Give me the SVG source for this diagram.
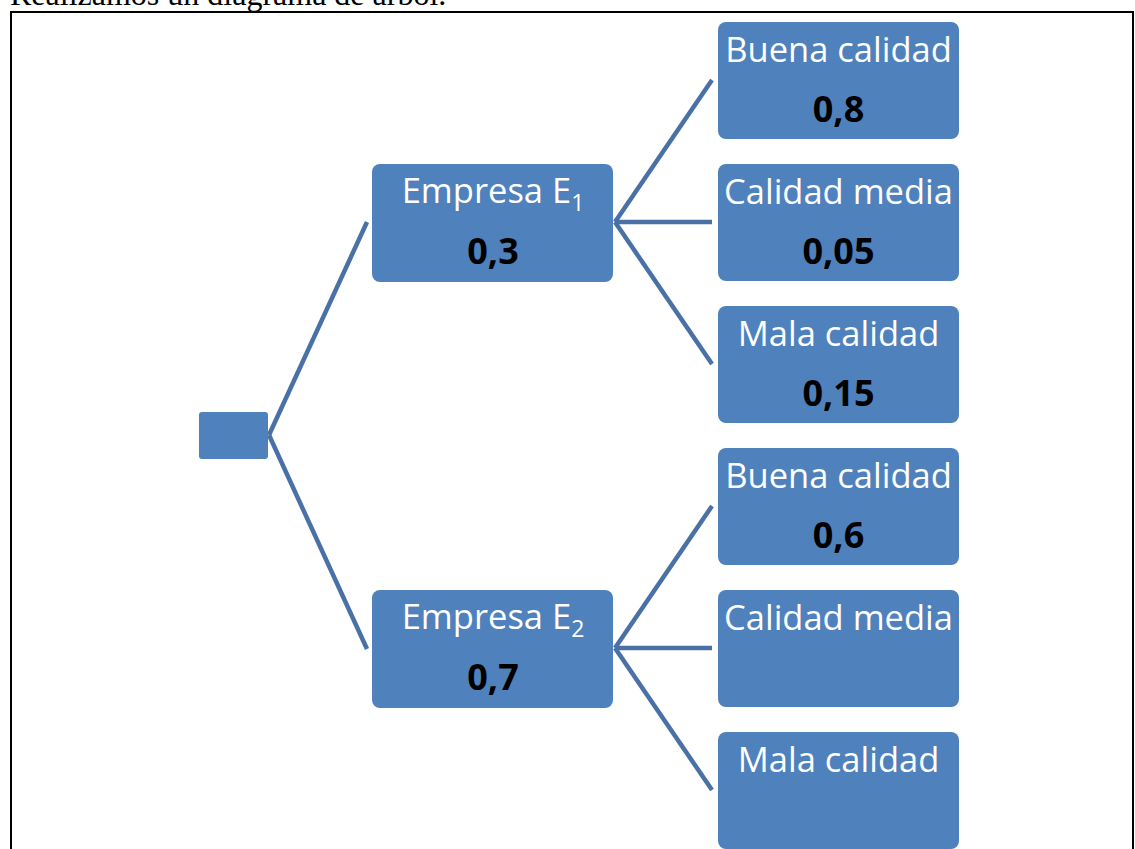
<svg xmlns="http://www.w3.org/2000/svg" width="1135" height="849" viewBox="0 0 1135 849">
<style>
.box{fill:#4F81BD;}
.lbl{font-family:"Open Sans","Noto Sans",sans-serif;font-size:34.5px;fill:#ffffff;text-anchor:middle;}
.num{font-family:"Open Sans","Noto Sans",sans-serif;font-size:36px;font-weight:bold;fill:#000000;text-anchor:middle;}
.sub{font-size:23px;}
.conn line{stroke:#4A71A6;stroke-width:4.5;stroke-linecap:butt;}
</style>
<rect width="1135" height="849" fill="#ffffff"/>
<text x="10" y="5" font-family="Liberation Serif,serif" font-size="32" fill="#000">Realizamos un diagrama de árbol.</text>
<path d="M11,860 V12 H1133 V860" fill="none" stroke="#000" stroke-width="2"/>
<g class="conn" id="connectors">
<line x1="269" y1="435" x2="367" y2="222"/>
<line x1="269" y1="435" x2="367" y2="649"/>
<line x1="615" y1="222" x2="712" y2="80"/>
<line x1="615" y1="222" x2="712" y2="222"/>
<line x1="615" y1="222" x2="712" y2="364"/>
<line x1="615" y1="648" x2="712" y2="506"/>
<line x1="615" y1="648" x2="712" y2="648"/>
<line x1="615" y1="648" x2="712" y2="790"/>
</g>
<g id="root"><rect class="box" x="199" y="412" width="69" height="47" rx="3"/></g>
<g id="e1"><rect class="box" x="372" y="164" width="241" height="118" rx="8"/>
<text class="lbl" x="493" y="203">Empresa E<tspan class="sub" dy="8">1</tspan></text>
<text class="num" x="493" y="264">0,3</text></g>
<g id="e2"><rect class="box" x="372" y="590" width="241" height="118" rx="8"/>
<text class="lbl" x="493" y="629">Empresa E<tspan class="sub" dy="8">2</tspan></text>
<text class="num" x="493" y="690">0,7</text></g>
<g id="e1b"><rect class="box" x="718" y="22" width="241" height="117" rx="8"/>
<text class="lbl" x="838.5" y="62">Buena calidad</text>
<text class="num" x="838.5" y="122">0,8</text></g>
<g id="e1m"><rect class="box" x="718" y="164" width="241" height="117" rx="8"/>
<text class="lbl" x="838.5" y="204">Calidad media</text>
<text class="num" x="838.5" y="264">0,05</text></g>
<g id="e1w"><rect class="box" x="718" y="306" width="241" height="117" rx="8"/>
<text class="lbl" x="838.5" y="346">Mala calidad</text>
<text class="num" x="838.5" y="406">0,15</text></g>
<g id="e2b"><rect class="box" x="718" y="448" width="241" height="117" rx="8"/>
<text class="lbl" x="838.5" y="488">Buena calidad</text>
<text class="num" x="838.5" y="548">0,6</text></g>
<g id="e2m"><rect class="box" x="718" y="590" width="241" height="117" rx="8"/>
<text class="lbl" x="838.5" y="630">Calidad media</text></g>
<g id="e2w"><rect class="box" x="718" y="732" width="241" height="117" rx="8"/>
<text class="lbl" x="838.5" y="772">Mala calidad</text></g>
</svg>
